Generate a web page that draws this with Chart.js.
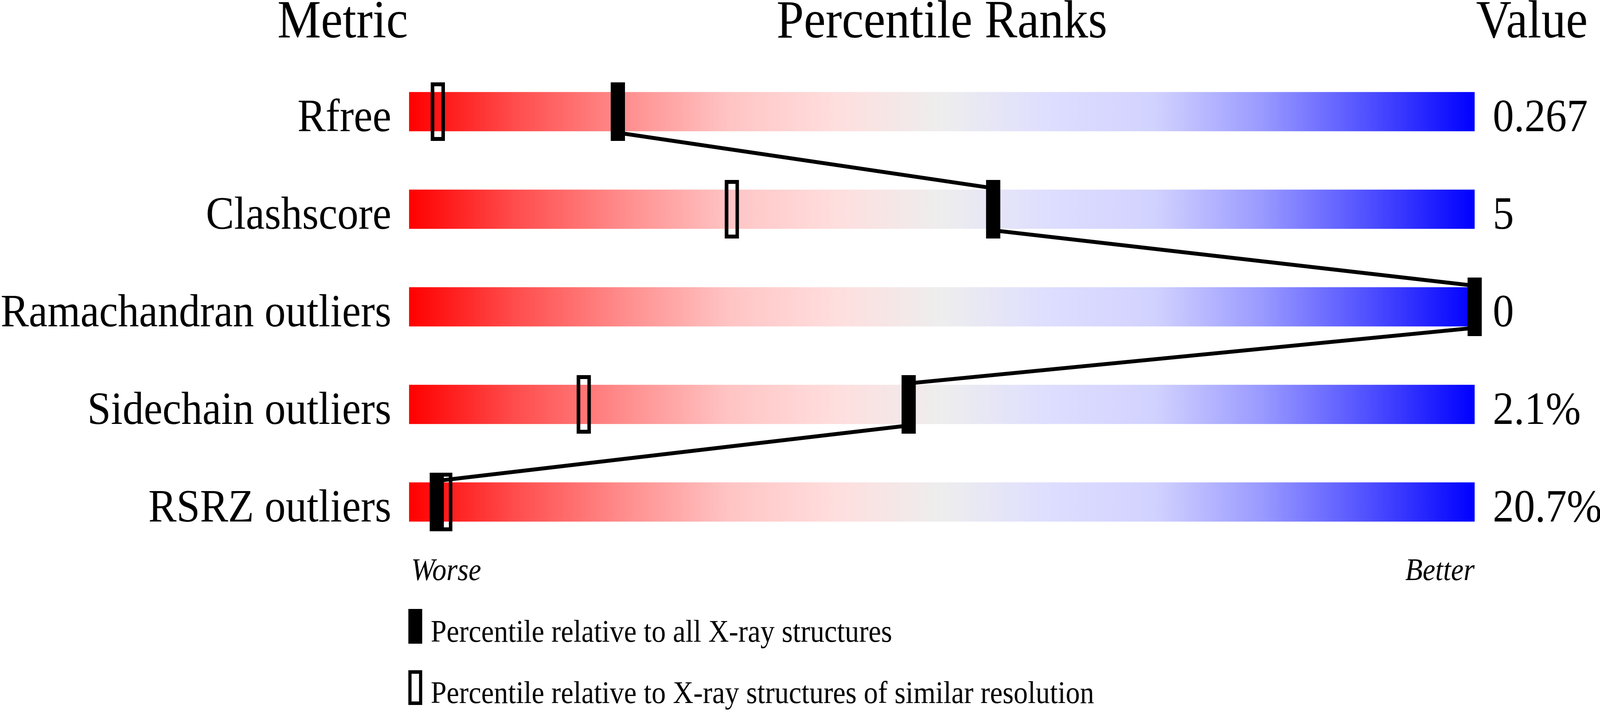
<!DOCTYPE html>
<html>
<head>
<meta charset="utf-8">
<script src="https://cdn.jsdelivr.net/npm/chart.js@4/dist/chart.umd.min.js"></script>
<style>
  html, body { margin: 0; padding: 0; background: #fff; overflow: hidden; }
  /* el lienzo se dibuja a 4506x1824 y se ajusta a la ventana */
  #slider { display: block; width: 100vw !important; height: 100vh !important; }
</style>
</head>
<body>
<canvas id="slider" width="4506" height="1824"></canvas>
<script>
// Datos del gráfico
const metrics = ["Rfree", "Clashscore", "Ramachandran outliers", "Sidechain outliers", "RSRZ outliers"];
const metricValues = ["0.267", "5", "0", "2.1%", "20.7%"];
const pctAll = [19.6, 54.8, 100, 46.9, 2.6];      // percentil vs todas las estructuras
const pctSimilar = [2.7, 30.3, 100, 16.4, 3.4];   // percentil vs resolución similar
const headers = ["Metric", "Percentile Ranks", "Value"];
const endLabels = ["Worse", "Better"];
const legendLabels = [
  "Percentile relative to all X-ray structures",
  "Percentile relative to X-ray structures of similar resolution",
];

const SERIF = '"Liberation Serif", "Times New Roman", serif';
const BAR_PX = 100; // alto de cada barra
const ROW_PX = 250; // distancia entre filas

// marcadores como imagenes (relleno / contorno)
function markerImage(w, h, filled) {
  const c = document.createElement("canvas");
  c.width = w;
  c.height = h;
  const g = c.getContext("2d");
  if (filled) {
    g.fillStyle = "#000";
    g.fillRect(0, 0, w, h);
  } else {
    g.strokeStyle = "#000";
    g.lineWidth = 10;
    g.strokeRect(5, 5, w - 10, h - 10);
  }
  return c;
}
const filledMarker = markerImage(40, 150, true);
const openMarker = markerImage(40, 150, false);

let gradCache = null;
function barGradient(ctx) {
  const { chart } = ctx;
  const area = chart.chartArea;
  if (!area) return "#eee";
  if (!gradCache) {
    const g = chart.ctx.createLinearGradient(area.left, 0, area.right, 0);
    g.addColorStop(0, "#ff0000");
    g.addColorStop(0.1, "#ff4d4d");
    g.addColorStop(0.2, "#ff8c8c");
    g.addColorStop(0.3, "#ffc4c4");
    g.addColorStop(0.4, "#ffdede");
    g.addColorStop(0.5, "#eeeeee");
    g.addColorStop(0.6, "#dedeff");
    g.addColorStop(0.7, "#d2d2ff");
    g.addColorStop(0.8, "#9a9aff");
    g.addColorStop(0.9, "#5050ff");
    g.addColorStop(1, "#0000ff");
    gradCache = g;
  }
  return gradCache;
}

// linea que une los marcadores negros: del borde inferior de una barra al superior de la siguiente
const half = (BAR_PX + 8) / ROW_PX / 2;
const linePoints = [];
pctAll.forEach((p, i) => {
  if (i > 0) linePoints.push({ x: p, y: i - half });
  if (i < pctAll.length - 1) linePoints.push({ x: p, y: i + half });
});

// textos: encabezados, etiquetas, valores y leyenda
const textPlugin = {
  id: "sliderText",
  afterDraw(chart) {
    const { ctx, scales } = chart;
    const x0 = scales.x.getPixelForValue(0);
    const x100 = scales.x.getPixelForValue(100);
    ctx.save();
    ctx.fillStyle = "#000";
    ctx.strokeStyle = "#000";
    ctx.textBaseline = "alphabetic";

    ctx.font = "138px " + SERIF;
    ctx.textAlign = "right";
    ctx.fillText(headers[0], x0 - 3, 96);
    ctx.textAlign = "center";
    ctx.fillText(headers[1], (x0 + x100) / 2, 96);
    ctx.textAlign = "left";
    ctx.fillText(headers[2], x100 + 4, 96);

    ctx.font = "119px " + SERIF;
    metrics.forEach((m, i) => {
      const yb = scales.y.getPixelForValue(i) + BAR_PX / 2;
      ctx.textAlign = "right";
      ctx.fillText(m, x0 - 50, yb);
      ctx.textAlign = "left";
      ctx.fillText(metricValues[i], x100 + 51, yb);
    });

    const yEnd = scales.y.getPixelForValue(metrics.length - 1) + BAR_PX / 2 + 150;
    ctx.font = "italic 80px " + SERIF;
    ctx.textAlign = "left";
    ctx.fillText(endLabels[0], x0 + 6, yEnd);
    ctx.textAlign = "right";
    ctx.fillText(endLabels[1], x100, yEnd);

    ctx.font = "80px " + SERIF;
    ctx.textAlign = "left";
    const legY = [1560, 1717];
    legendLabels.forEach((t, k) => {
      if (k === 0) {
        ctx.fillRect(x0 - 2, legY[k], 39, 89);
      } else {
        ctx.lineWidth = 9;
        ctx.strokeRect(x0 + 2.5, legY[k] + 4.5, 30, 80);
      }
      ctx.fillText(t, x0 + 61, legY[k] + 84);
    });
    ctx.restore();
  },
};

new Chart(document.getElementById("slider"), {
  type: "bar",
  data: {
    datasets: [
      {
        type: "scatter",
        label: "all",
        data: pctAll.map((p, i) => ({ x: p, y: i })),
        pointStyle: filledMarker,
        clip: false,
        order: 0,
      },
      {
        type: "line",
        label: "link",
        data: linePoints,
        borderColor: "#000",
        borderWidth: 10,
        pointRadius: 0,
        tension: 0,
        fill: false,
        clip: false,
        order: 1,
      },
      {
        type: "scatter",
        label: "similar",
        data: pctSimilar.map((p, i) => ({ x: p, y: i })),
        pointStyle: openMarker,
        clip: false,
        order: 2,
      },
      {
        type: "bar",
        label: "range",
        indexAxis: "y",
        data: metrics.map((m, i) => ({ x: [0, 100], y: i })),
        backgroundColor: barGradient,
        borderWidth: 0,
        barThickness: BAR_PX,
        grouped: false,
        order: 3,
      },
    ],
  },
  options: {
    responsive: false,
    devicePixelRatio: 1,
    animation: false,
    events: [],
    layout: { padding: { left: 1152, right: 353, top: 161, bottom: 413 } },
    scales: {
      x: { type: "linear", min: 0, max: 100, offset: false, display: false },
      y: { type: "linear", min: -0.5, max: 4.5, reverse: true, offset: false, display: false },
    },
    plugins: {
      legend: { display: false },
      tooltip: { enabled: false },
    },
  },
  plugins: [textPlugin],
});
</script>
</body>
</html>
